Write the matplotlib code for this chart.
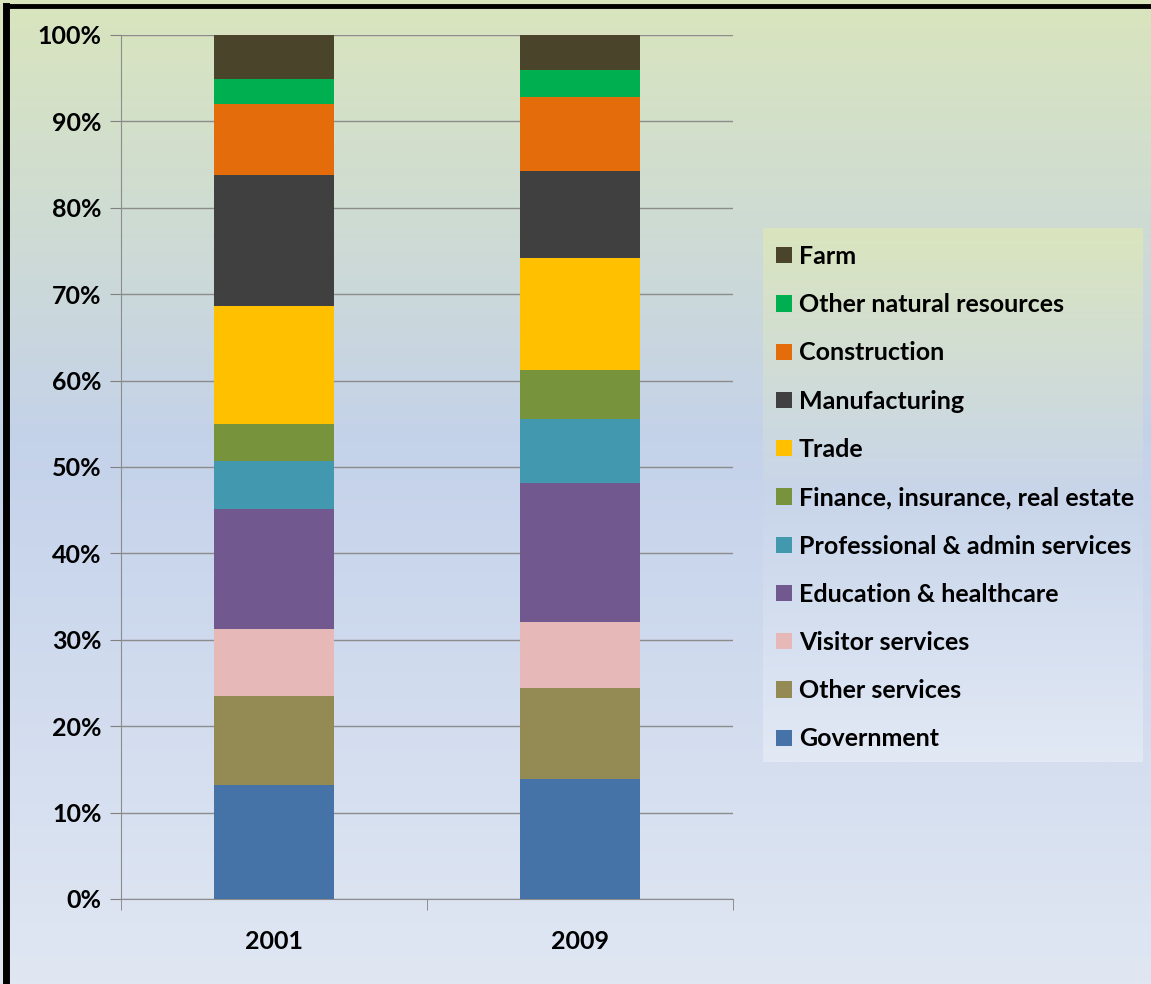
import numpy as np
import matplotlib.pyplot as plt
from matplotlib.colors import LinearSegmentedColormap
from matplotlib.patches import Patch
from matplotlib.lines import Line2D

years = ["2001", "2009"]
sectors = ["Government", "Other services", "Visitor services", "Education & healthcare",
           "Professional & admin services", "Finance, insurance, real estate", "Trade",
           "Manufacturing", "Construction", "Other natural resources", "Farm"]
share_2001 = [13.2, 10.3, 7.75, 13.9, 5.5, 4.3, 13.7, 15.2, 8.2, 2.9, 5.05]
share_2009 = [13.9, 10.5, 7.7, 16.0, 7.5, 5.6, 13.0, 10.1, 8.5, 3.15, 4.05]
colors = ["#4572a7", "#948a54", "#e6b9b8", "#71588f", "#4198af", "#77933c",
          "#ffc000", "#404040", "#e46c0a", "#00b050", "#4a452a"]

plt.rcParams['font.family'] = ['Lato', 'DejaVu Sans']
plt.rcParams['font.weight'] = 'bold'

W, H = 1151, 984
fig = plt.figure(figsize=(W / 100, H / 100), dpi=100)

# background gradient
bg = fig.add_axes([0, 0, 1, 1], zorder=-10)
bg_cmap = LinearSegmentedColormap.from_list(
    "bg", [(0, "#d9e5bd"), (0.45, "#c4d2ea"), (1, "#e0e7f3")])
bg.imshow(np.linspace(0, 1, 256).reshape(-1, 1), aspect="auto", cmap=bg_cmap,
          extent=[0, 1, 0, 1])
bg.axis("off")

# black frame on top and left
fig.add_artist(Line2D([6 / W, 6 / W], [0, 1 - 6 / H], color="black", lw=5,
                      transform=fig.transFigure, solid_capstyle="projecting"))
fig.add_artist(Line2D([6 / W, 1], [1 - 6 / H, 1 - 6 / H], color="black", lw=3.5,
                      transform=fig.transFigure, solid_capstyle="projecting"))

ax = fig.add_axes([121 / W, 1 - 899 / H, (733 - 121) / W, (899 - 35) / H])
ax.patch.set_alpha(0)
x = np.arange(len(years))
data = np.array([share_2001, share_2009]).T
bottom = np.zeros(len(years))
for name, vals, c in zip(sectors, data, colors):
    ax.bar(x, vals, 0.39, bottom=bottom, color=c, label=name, zorder=3)
    bottom += vals

ax.set_xlim(-0.5, 1.5)
ax.set_ylim(0, 100)
ax.set_yticks(np.arange(0, 101, 10))
ax.set_yticklabels([f"{v}%" for v in range(0, 101, 10)], fontsize=18)
ax.set_xticks(x)
ax.set_xticklabels(years, fontsize=18)
ax.tick_params(axis="x", length=0, pad=22)
ax.set_xticks([-0.5, 0.5, 1.5], minor=True)
ax.tick_params(axis="x", which="minor", length=8, color="#808080")
ax.tick_params(axis="y", length=8, color="#808080", pad=6)
ax.grid(axis="y", color="#8c8c8c", lw=1, zorder=0)
for s in ["top", "right"]:
    ax.spines[s].set_visible(False)
for s in ["left", "bottom"]:
    ax.spines[s].set_color("#8c8c8c")

# legend box with its own gradient
lg = fig.add_axes([763 / W, 1 - 762 / H, (1143 - 763) / W, (762 - 228) / H], zorder=-5)
lg_cmap = LinearSegmentedColormap.from_list(
    "lg", [(0, "#dae5be"), (0.5, "#c8d5ea"), (1, "#e2e9f5")])
lg.imshow(np.linspace(0, 1, 256).reshape(-1, 1), aspect="auto", cmap=lg_cmap)
lg.axis("off")

handles = [Patch(facecolor=c, label=n) for n, c in zip(sectors, colors)][::-1]
fig.legend(handles=handles, loc="upper left", bbox_to_anchor=(766 / W, 1 - 235 / H),
           frameon=False, fontsize=18, handlelength=0.62, handleheight=0.62,
           handletextpad=0.3, labelspacing=1.01, borderaxespad=0)

fig.savefig("out.png", dpi=100)
